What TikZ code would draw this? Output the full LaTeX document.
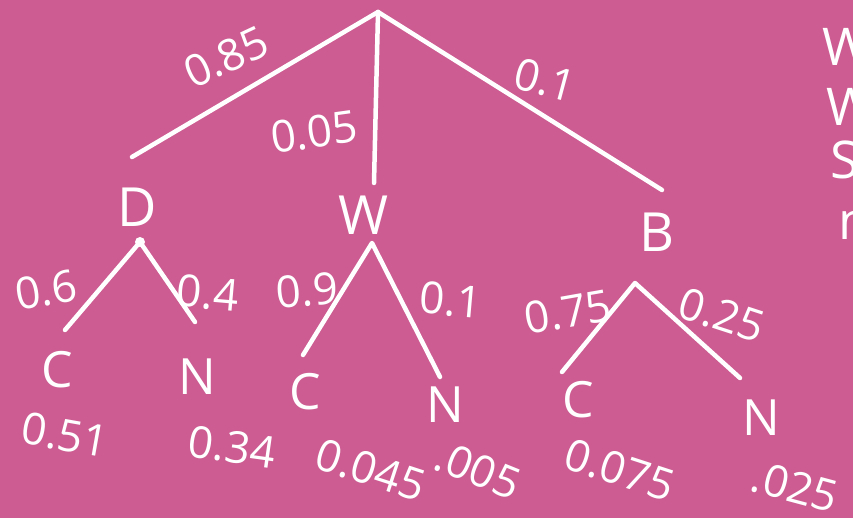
\documentclass[tikz,border=0pt]{standalone}
\usepackage{fontspec}
\setmainfont{Open Sans}
\usetikzlibrary{positioning}
\definecolor{TreePink}{RGB}{204, 92, 145}

\begin{document}
\begin{tikzpicture}[x=1pt, y=-1pt,
        branch/.style={draw=white, line width=4.5pt, line cap=round, line join=round},
        outcome/.style={text=white, inner sep=0pt, font=\fontsize{54}{54}\selectfont},
        leaf/.style={text=white, inner sep=0pt, font=\fontsize{50}{50}\selectfont},
        prob/.style={text=white, inner sep=0pt, font=\fontsize{44}{44}\selectfont},
        note/.style={text=white, inner sep=0pt, anchor=west, font=\fontsize{52}{52}\selectfont}]
        \fill[TreePink] (0,0) rectangle (853,518);
        \clip (0,0) rectangle (853,518);

        % first split
        \coordinate (top) at (378,12);
        \node[outcome] (D) at (137,207) {D};
        \node[outcome] (W) at (363,215) {W};
        \node[outcome] (B) at (657,232) {B};
        \coordinate (toD) at (132,157);
        \coordinate (toW) at (374,183);
        \coordinate (toB) at (662,190);
        \draw[branch] (top) -- (toD);
        \draw[branch] (top) -- (toW);
        \draw[branch] (top) -- (toB);
        \node[prob, rotate=25] (pD) at (226,57) {0.85};
        \node[prob, rotate=8] (pW) at (314,132) {0.05};
        \node[prob, rotate=-15] (pB) at (545,80) {0.1};

        % second split
        \coordinate (forkD) at (140,242);
        \coordinate (forkW) at (372,243);
        \coordinate (forkB) at (635,283);
        \fill[white] (forkD) circle (5);
        \coordinate (toDC) at (65,330);
        \coordinate (toDN) at (195,322);
        \coordinate (toWC) at (303,355);
        \coordinate (toWN) at (440,377);
        \coordinate (toBC) at (562,372);
        \coordinate (toBN) at (740,378);
        \draw[branch] (toDC) -- (forkD) -- (toDN);
        \draw[branch] (toWC) -- (forkW) -- (toWN);
        \draw[branch] (toBC) -- (forkB) -- (toBN);
        \node[prob, rotate=10] (pDC) at (46,290) {0.6};
        \node[prob, rotate=-5] (pDN) at (208,293) {0.4};
        \node[prob, rotate=5] (pWC) at (307,290) {0.9};
        \node[prob, rotate=-5] (pWN) at (451,300) {0.1};
        \node[prob, rotate=10] (pBC) at (568,312) {0.75};
        \node[prob, rotate=-18] (pBN) at (722,315) {0.25};

        % leaves
        \node[leaf] (DC) at (57,370) {C};
        \node[leaf] (DN) at (197,377) {N};
        \node[leaf] (WC) at (305,392) {C};
        \node[leaf] (WN) at (445,405) {N};
        \node[leaf] (BC) at (578,400) {C};
        \node[leaf] (BN) at (761,418) {N};

        % joint probabilities
        \node[prob, rotate=-10] (jDC) at (65,435) {0.51};
        \node[prob, rotate=-8] (jDN) at (232,447) {0.34};
        \node[prob, rotate=-18] (jWC) at (371,470) {0.045};
        \node[prob, rotate=-22] (jWN) at (478,470) {.005};
        \node[prob, rotate=-18] (jBC) at (620,470) {0.075};
        \node[prob, rotate=-15] (jBN) at (795,487) {.025};

        % cut-off notes at the right edge
        \node[note] (n1) at (822,47) {W};
        \node[note] (n2) at (826,107) {W};
        \node[note] (n3) at (830,160) {S};
        \node[note] (n4) at (838,225) {n};
    \end{tikzpicture}
\end{document}
